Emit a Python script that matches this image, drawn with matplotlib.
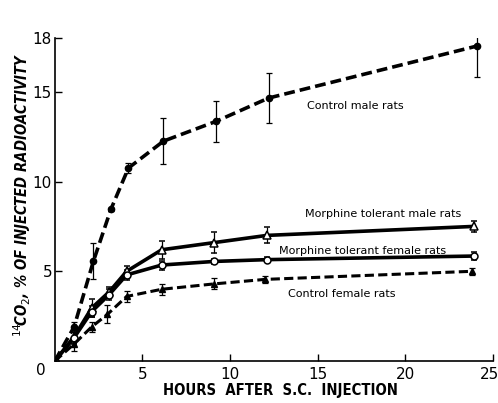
import matplotlib
matplotlib.use("Agg")
import matplotlib.pyplot as plt
from matplotlib.transforms import ScaledTranslation

# Data
hours_cm = [0, 1.1, 2.2, 3.2, 4.2, 6.2, 9.2, 12.2, 24.1]
control_male = [0, 1.9, 5.55, 8.45, 10.75, 12.25, 13.35, 14.65, 17.55]
control_male_err = [0, 0.3, 1.0, 0.1, 0.3, 1.3, 1.15, 1.4, 1.75]

hours = [0, 1.1, 2.1, 3.1, 4.1, 6.1, 9.1, 12.1, 23.9]
morph_male = [0, 1.35, 2.95, 3.85, 5.0, 6.2, 6.6, 7.0, 7.5]
morph_male_err = [0, 0.4, 0.5, 0.3, 0.3, 0.5, 0.6, 0.45, 0.3]

morph_female = [0, 1.3, 2.75, 3.7, 4.8, 5.35, 5.55, 5.65, 5.85]
morph_female_err = [0, 0.3, 0.3, 0.3, 0.3, 0.25, 0.15, 0.15, 0.2]

hours_cf = [0, 1.1, 2.1, 3.0, 4.1, 6.1, 9.1, 12.0, 23.8]
control_female = [0, 0.95, 1.9, 2.6, 3.6, 4.0, 4.3, 4.55, 5.0]
control_female_err = [0, 0.4, 0.3, 0.5, 0.3, 0.3, 0.3, 0.2, 0.2]

labels = ["Control male rats", "Morphine tolerant male rats",
          "Morphine tolerant female rats", "Control female rats"]
xlabel = "HOURS  AFTER  S.C.  INJECTION"
ylabel = r"$^{\it 14}\!$CO$_{\it 2}$, % OF INJECTED RADIOACTIVITY"

fig = plt.figure(figsize=(4.98, 4.03), dpi=100)
ax = fig.add_axes([0.110, 0.104, 0.880, 0.802])

dash = (0, (3.0, 1.4))
ekw = dict(ecolor="black", elinewidth=0.9, capsize=2, capthick=0.9)

ax.errorbar(hours_cm, control_male, yerr=control_male_err, color="black",
            lw=2.6, linestyle=dash, marker="o", ms=4.5, mfc="black", **ekw)
ax.errorbar(hours, morph_male, yerr=morph_male_err, color="black",
            lw=2.6, linestyle="-", marker="^", ms=6, mfc="white", mew=1.1, **ekw)
ax.errorbar(hours, morph_female, yerr=morph_female_err, color="black",
            lw=2.6, linestyle="-", marker="o", ms=5, mfc="white", mew=1.1, **ekw)
ax.errorbar(hours_cf, control_female, yerr=control_female_err, color="black",
            lw=2.2, linestyle=dash, marker="^", ms=5, mfc="black", **ekw)

ax.set_xlim(0, 25)
ax.set_ylim(0, 18)
ax.spines["top"].set_visible(False)
ax.spines["right"].set_visible(False)
ax.spines["left"].set_linewidth(1.2)
ax.spines["bottom"].set_linewidth(1.2)
ax.set_xticks([5, 10, 15, 20, 25])
ax.set_yticks([5, 10, 15, 18])
ax.tick_params(direction="in", length=5, width=1, labelsize=11)
ax.tick_params(axis="x", pad=4)
ax.tick_params(axis="y", pad=2)
ax.text(-0.5, -0.1, "0", ha="right", va="top", fontsize=11)

# nudge the last x tick label inward so it is not clipped by the figure edge
lbl = ax.get_xticklabels()[-1]
lbl.set_transform(lbl.get_transform() + ScaledTranslation(-4 / 100, 0, fig.dpi_scale_trans))

tf = dict(fontsize=8, family="DejaVu Sans")
ax.text(14.4, 14.2, labels[0], ha="left", va="center", **tf)
ax.text(14.3, 8.2, labels[1], ha="left", va="center", **tf)
ax.text(12.8, 6.15, labels[2], ha="left", va="center", **tf)
ax.text(13.3, 3.75, labels[3], ha="left", va="center", **tf)

# axis labels placed as figure text, sized to match the reference extent
xl = fig.text(280 / 498, 1 - 391 / 403, xlabel, ha="center", va="center",
              fontsize=11, fontweight="bold", fontstretch="condensed")
yl = fig.text(22 / 498, 1 - 195 / 403, ylabel, ha="center", va="center",
              rotation=90, fontsize=11, fontweight="bold", fontstyle="italic",
              fontstretch="condensed")
fig.canvas.draw()
r = fig.canvas.get_renderer()
wx = xl.get_window_extent(r).width
xl.set_fontsize(11 * 232 / wx)
hy = yl.get_window_extent(r).height
yl.set_fontsize(11 * 284 / hy)

fig.savefig("out.png", dpi=100)
